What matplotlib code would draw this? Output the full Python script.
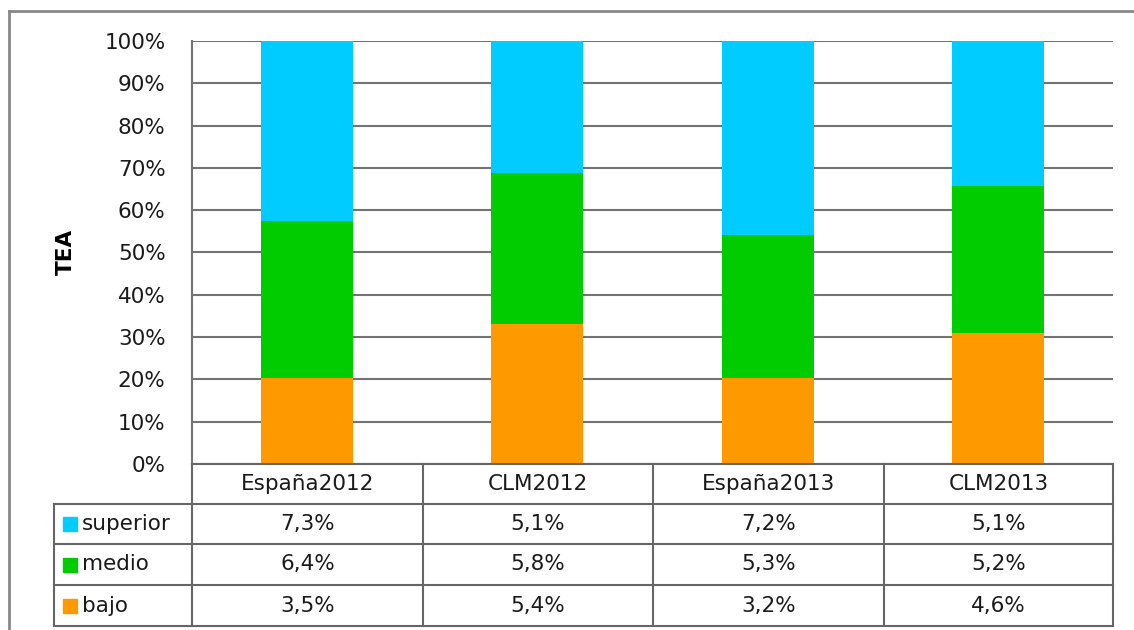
import matplotlib.pyplot as plt
import numpy as np
from matplotlib.lines import Line2D
from matplotlib.patches import Rectangle

plt.rcParams["font.family"] = ["DejaVu Sans"]

categories = ["España2012", "CLM2012", "España2013", "CLM2013"]
series = ["superior", "medio", "bajo"]
superior = [7.3, 5.1, 7.2, 5.1]
medio = [6.4, 5.8, 5.3, 5.2]
bajo = [3.5, 5.4, 3.2, 4.6]
colors = {"superior": "#00CCFF", "medio": "#00CC00", "bajo": "#FF9900"}

W, H = 1134, 630
fs = 15.5
fig = plt.figure(figsize=(W / 100, H / 100), dpi=100)


def fx(x):
    return x / W


def fy(y):
    return 1 - y / H


left, right, top, bottom = 192, 1113, 41, 464
ax = fig.add_axes([fx(left), fy(bottom), fx(right - left), fy(top) - fy(bottom)])

vals = {"superior": np.array(superior), "medio": np.array(medio), "bajo": np.array(bajo)}
total = vals["superior"] + vals["medio"] + vals["bajo"]
x = np.arange(len(categories))
base = np.zeros(len(categories))
for name in ["bajo", "medio", "superior"]:
    pct = vals[name] / total * 100
    ax.bar(x, pct, bottom=base, width=0.4, color=colors[name], zorder=3)
    base += pct

ax.set_xlim(-0.5, len(categories) - 0.5)
ax.set_ylim(0, 100)
ax.set_yticks(range(0, 101, 10))
ax.set_yticklabels([f"{v}%" for v in range(0, 101, 10)], fontsize=fs, color="#1a1a1a")
ax.set_xticks([])
ax.tick_params(axis="y", length=0, pad=19)
ax.yaxis.grid(True, color="#737373", linewidth=1.5, zorder=0)
for s in ["top", "right", "bottom"]:
    ax.spines[s].set_visible(False)
ax.spines["left"].set_color("#737373")
ax.spines["left"].set_linewidth(1.5)

fig.text(fx(66), fy(252), "TEA", rotation=90, fontsize=fs, fontweight="bold",
         ha="center", va="center")

# data table below the plot
lc = "#666666"
cols = [192, 423, 653, 884, 1113]
rows = [464, 504, 544, 585, 626]


def hline(x0, x1, y):
    fig.add_artist(Line2D([fx(x0), fx(x1)], [fy(y), fy(y)], color=lc, lw=1.5))


def vline(x, y0, y1):
    fig.add_artist(Line2D([fx(x), fx(x)], [fy(y0), fy(y1)], color=lc, lw=1.5))


hline(cols[0], cols[-1], rows[0])
for y in rows[1:]:
    hline(54, cols[-1], y)
for c in cols:
    vline(c, rows[0], rows[-1])
vline(54, rows[1], rows[-1])

for i, cat in enumerate(categories):
    cx = (cols[i] + cols[i + 1]) / 2
    fig.text(fx(cx), fy((rows[0] + rows[1]) / 2), cat, fontsize=fs,
             ha="center", va="center", color="#1a1a1a")

for r, name in enumerate(series):
    cy = (rows[r + 1] + rows[r + 2]) / 2
    fig.add_artist(Rectangle((fx(63), fy(cy + 7)), fx(14), fy(0) - fy(14),
                             color=colors[name], transform=fig.transFigure))
    fig.text(fx(82), fy(cy), name, fontsize=fs, ha="left", va="center", color="#1a1a1a")
    for i in range(len(categories)):
        cx = (cols[i] + cols[i + 1]) / 2
        txt = f"{vals[name][i]:.1f}%".replace(".", ",")
        fig.text(fx(cx), fy(cy), txt, fontsize=fs, ha="center", va="center", color="#1a1a1a")

# outer chart border
fig.add_artist(Line2D([fx(9), fx(W)], [fy(11), fy(11)], color="#888888", lw=2))
fig.add_artist(Line2D([fx(9), fx(9)], [fy(11), fy(H)], color="#888888", lw=2))

fig.savefig("out.png", dpi=100)
